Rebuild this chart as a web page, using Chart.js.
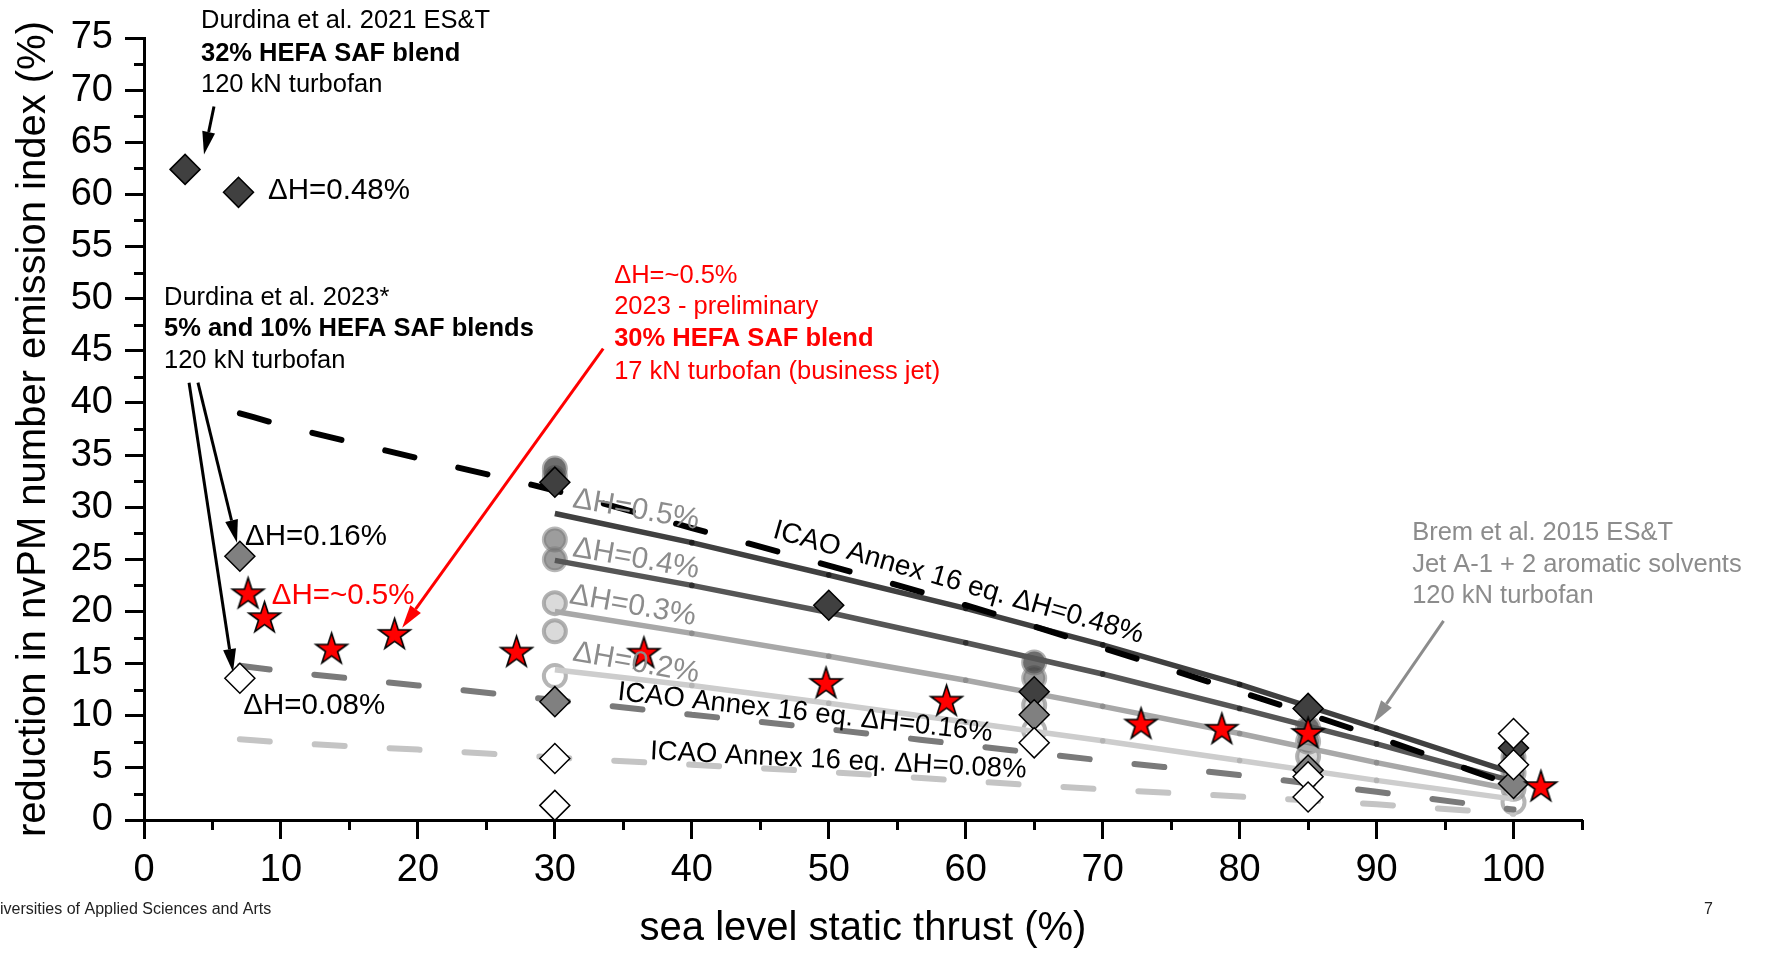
<!DOCTYPE html>
<html>
<head>
<meta charset="utf-8">
<script src="https://cdn.jsdelivr.net/npm/chart.js@4.4.0/dist/chart.umd.min.js"></script>
<style>
  html, body { margin: 0; padding: 0; background: #fff; }
  #wrap { width: 1766px; height: 953px; }
</style>
</head>
<body>
<div id="wrap"><canvas id="nvpmChart" width="1766" height="953"></canvas></div>
<script>
// fitted reductions (%) vs. sea level static thrust (%), one curve per fuel hydrogen change
const thrustSteps = [30, 40, 50, 60, 70, 80, 90, 100];
const fitDH05 = [29.4, 26.6, 23.5, 20.3, 16.8, 13.0, 8.8, 4.5];
const fitDH04 = [24.9, 22.5, 19.9, 17.0, 14.0, 10.7, 7.3, 3.7];
const fitDH03 = [20.0, 17.9, 15.7, 13.4, 10.9, 8.3, 5.5, 2.9];
const fitDH02 = [14.4, 12.9, 11.2, 9.4, 7.6, 5.7, 3.8, 2.0];

// ICAO Annex 16 equation curves
const icaoThrust = [7, 10, 20, 30, 40, 50, 60, 70, 80, 90, 100];
const icaoDH048 = [39.0, 37.9, 34.7, 31.6, 28.0, 24.4, 20.6, 16.5, 12.3, 7.95, 3.3];
const icaoDH016 = [14.8, 14.3, 12.9, 11.5, 10.1, 8.7, 7.2, 5.7, 4.3, 2.7, 1.0];
const icaoDH008 = [7.75, 7.45, 6.75, 6.0, 5.3, 4.6, 3.75, 2.95, 2.25, 1.5, 0.6];

// Durdina et al. 2021 (32% HEFA)
const d2021Thrust = [3.0, 6.9, 30, 50, 65, 85, 100];
const d2021Red = [62.4, 60.2, 32.4, 20.6, 12.3, 10.7, 6.9];
// Durdina et al. 2023, dH = 0.16% and 0.08%
const d2023Thrust016 = [7.0, 30, 65, 85, 100];
const d2023Red016 = [25.3, 11.35, 10.1, 4.8, 3.5];
const d2023Thrust008 = [7.0, 30, 30, 65, 85, 85, 100, 100];
const d2023Red008 = [13.6, 5.9, 1.4, 7.4, 4.15, 2.2, 8.3, 5.3];

// 17 kN business jet, 30% HEFA (preliminary)
const bizJetThrust = [7.6, 8.8, 13.7, 18.3, 27.2, 36.5, 49.8, 58.6, 72.8, 78.7, 85.0, 102.0];
const bizJetRed = [21.8, 19.5, 16.5, 17.9, 16.2, 16.1, 13.2, 11.5, 9.3, 8.8, 8.4, 3.3];

// Brem et al. 2015 (Jet A-1 + aromatic solvents)
const bremThrust05 = [30, 30, 65, 85, 100];
const bremRed05 = [33.7, 33.0, 15.1, 8.8, 6.0];
const bremThrust04 = [30, 30, 65, 85, 100];
const bremRed04 = [26.9, 25.0, 13.6, 7.5, 4.5];
const bremThrust03 = [30, 30, 65, 85, 100];
const bremRed03 = [20.8, 18.1, 11.0, 6.1, 3.0];
const bremThrust02 = [30, 65, 85, 100];
const bremRed02 = [13.8, 8.6, 4.8, 1.7];

const xTicksMax = 105;
const yTicksMax = 75;

const FONT = "'Liberation Sans', Arial, sans-serif";
const pts = (xs, ys) => xs.map((x, i) => ({ x: x, y: ys[i] }));

// red five-point star used as a point style
function makeStar(R) {
  const s = Math.ceil(R * 2 + 6);
  const c = document.createElement('canvas');
  c.width = s; c.height = s;
  const g = c.getContext('2d');
  g.translate(s / 2, s / 2 + R * 0.095);
  g.beginPath();
  for (let i = 0; i < 10; i++) {
    const a = -Math.PI / 2 + i * Math.PI / 5;
    const r = i % 2 === 0 ? R : R * 0.382;
    const px = Math.cos(a) * r, py = Math.sin(a) * r;
    if (i === 0) g.moveTo(px, py); else g.lineTo(px, py);
  }
  g.closePath();
  g.fillStyle = '#ff0000';
  g.fill();
  g.lineWidth = 1.6;
  g.lineJoin = 'miter';
  g.strokeStyle = '#000';
  g.stroke();
  return c;
}
const starImg = makeStar(16.5);

// text labels, anchored in data coordinates
const notes = [
  { text: 'Durdina et al. 2021 ES&T', x: 4.16, y: 76.6, size: 25.5 },
  { text: '32% HEFA SAF blend', x: 4.16, y: 73.5, size: 25.5, bold: true },
  { text: '120 kN turbofan', x: 4.16, y: 70.5, size: 25.5 },
  { text: 'ΔH=0.48%', x: 9.06, y: 60.3, size: 29.5 },
  { text: 'Durdina et al. 2023*', x: 1.46, y: 50.1, size: 25.5 },
  { text: '5% and 10% HEFA SAF blends', x: 1.46, y: 47.05, size: 25.5, bold: true },
  { text: '120 kN turbofan', x: 1.46, y: 44.0, size: 25.5 },
  { text: 'ΔH=~0.5%', x: 34.33, y: 52.2, size: 25.5, color: '#ff0000' },
  { text: '2023 - preliminary', x: 34.33, y: 49.2, size: 25.5, color: '#ff0000' },
  { text: '30% HEFA SAF blend', x: 34.33, y: 46.15, size: 25.5, color: '#ff0000', bold: true },
  { text: '17 kN turbofan (business jet)', x: 34.33, y: 43.0, size: 25.5, color: '#ff0000' },
  { text: 'Brem et al. 2015 ES&T', x: 92.6, y: 27.5, size: 25.5, color: '#8c8c8c' },
  { text: 'Jet A-1 + 2 aromatic solvents', x: 92.6, y: 24.5, size: 25.5, color: '#8c8c8c' },
  { text: '120 kN turbofan', x: 92.6, y: 21.5, size: 25.5, color: '#8c8c8c' },
  { text: 'ΔH=0.16%', x: 7.38, y: 27.13, size: 29.5 },
  { text: 'ΔH=~0.5%', x: 9.33, y: 21.5, size: 29.5, color: '#ff0000' },
  { text: 'ΔH=0.08%', x: 7.25, y: 10.94, size: 29.5 },
  { text: 'ΔH=0.5%', x: 31.34, y: 30.8, size: 30, color: '#8c8c8c', angle: 10 },
  { text: 'ΔH=0.4%', x: 31.34, y: 26.1, size: 30, color: '#8c8c8c', angle: 10 },
  { text: 'ΔH=0.3%', x: 31.1, y: 21.6, size: 30, color: '#8c8c8c', angle: 10 },
  { text: 'ΔH=0.2%', x: 31.34, y: 16.1, size: 30, color: '#8c8c8c', angle: 10 },
  { text: 'ICAO Annex 16 eq. ΔH=0.48%', x: 46.0, y: 27.83, size: 28, angle: 16 },
  { text: 'ICAO Annex 16 eq. ΔH=0.16%', x: 34.6, y: 12.25, size: 27.5, angle: 6.3 },
  { text: 'ICAO Annex 16 eq. ΔH=0.08%', x: 36.95, y: 6.55, size: 27.5, angle: 2.8 }
];

// arrows from the text blocks to the data they describe
const arrows = [
  { from: [5.11, 68.43], to: [4.38, 63.82], color: '#000' },
  { from: [3.94, 41.94], to: [6.79, 26.58], color: '#000' },
  { from: [3.29, 41.94], to: [6.50, 14.20], color: '#000' },
  { from: [33.53, 45.2], to: [18.85, 18.43], color: '#ff0000' },
  { from: [94.89, 19.1], to: [89.77, 9.31], color: '#8c8c8c' }
];

function drawArrow(ctx, x1, y1, x2, y2, color) {
  const ang = Math.atan2(y2 - y1, x2 - x1);
  const head = 23, half = 6.5;
  const bx = x2 - Math.cos(ang) * head, by = y2 - Math.sin(ang) * head;
  ctx.save();
  ctx.strokeStyle = color;
  ctx.fillStyle = color;
  ctx.lineWidth = 3;
  ctx.beginPath();
  ctx.moveTo(x1, y1);
  ctx.lineTo(bx, by);
  ctx.stroke();
  ctx.beginPath();
  ctx.moveTo(x2, y2);
  ctx.lineTo(bx + Math.sin(ang) * half, by - Math.cos(ang) * half);
  ctx.lineTo(bx - Math.sin(ang) * half, by + Math.cos(ang) * half);
  ctx.closePath();
  ctx.fill();
  ctx.restore();
}

const overlay = {
  id: 'overlay',
  afterDraw(chart) {
    const ctx = chart.ctx;
    const xs = chart.scales.x, ys = chart.scales.y;
    const area = chart.chartArea;

    // minor tick marks
    ctx.save();
    ctx.strokeStyle = '#000';
    ctx.lineWidth = 3;
    ctx.beginPath();
    for (let v = 5; v < xTicksMax + 0.1; v += 10) {
      const px = Math.round(xs.getPixelForValue(v)) + 0.5;
      ctx.moveTo(px, area.bottom);
      ctx.lineTo(px, area.bottom + 10);
    }
    for (let v = 2.5; v < yTicksMax; v += 5) {
      const py = Math.round(ys.getPixelForValue(v)) + 0.5;
      ctx.moveTo(area.left, py);
      ctx.lineTo(area.left - 10, py);
    }
    ctx.stroke();
    ctx.restore();

    arrows.forEach(a => drawArrow(ctx,
      xs.getPixelForValue(a.from[0]), ys.getPixelForValue(a.from[1]),
      xs.getPixelForValue(a.to[0]), ys.getPixelForValue(a.to[1]), a.color));

    notes.forEach(n => {
      ctx.save();
      ctx.translate(xs.getPixelForValue(n.x), ys.getPixelForValue(n.y));
      if (n.angle) ctx.rotate(n.angle * Math.PI / 180);
      ctx.font = (n.bold ? 'bold ' : '') + n.size + 'px ' + FONT;
      ctx.fillStyle = n.color || '#000';
      ctx.textAlign = 'left';
      ctx.textBaseline = 'middle';
      ctx.fillText(n.text, 0, 0);
      ctx.restore();
    });

    // slide footer
    ctx.save();
    ctx.font = '16px ' + FONT;
    ctx.fillStyle = '#222';
    ctx.textBaseline = 'middle';
    ctx.textAlign = 'left';
    ctx.fillText('iversities of Applied Sciences and Arts', 0, 910);
    ctx.fillText('7', 1704, 910);
    ctx.restore();
  }
};

const common = { clip: false };

const diamond = (label, data, fill, order) => Object.assign({
  label: label, data: data, order: order,
  pointStyle: 'rectRot', pointRadius: 15,
  pointBackgroundColor: fill, pointBorderColor: '#000', pointBorderWidth: 1.5,
  showLine: false
}, common);

const fitLine = (label, ys, color, dot, order) => Object.assign({
  label: label, data: pts(thrustSteps, ys), order: order,
  showLine: true, borderColor: color, borderWidth: 5.5, tension: 0,
  pointRadius: c => (c.dataIndex === 0 || c.dataIndex === thrustSteps.length - 1) ? 0 : 2.8,
  pointBackgroundColor: dot, pointBorderWidth: 0
}, common);

const icaoLine = (label, ys, color, order) => Object.assign({
  label: label, data: pts(icaoThrust, ys), order: order,
  showLine: true, borderColor: color, borderWidth: 6,
  borderDash: [30, 45], borderCapStyle: 'round',
  cubicInterpolationMode: 'monotone', pointRadius: 0
}, common);

const bremSet = (label, xs, ys, fill, edge) => Object.assign({
  label: label, data: pts(xs, ys), order: 9,
  pointStyle: 'circle', pointRadius: 11,
  pointBackgroundColor: fill, pointBorderColor: edge, pointBorderWidth: 4,
  showLine: false
}, common);

new Chart(document.getElementById('nvpmChart').getContext('2d'), {
  type: 'scatter',
  data: {
    datasets: [
      Object.assign({
        label: '17 kN business jet', data: pts(bizJetThrust, bizJetRed), order: 0,
        pointStyle: starImg, pointRadius: 16, showLine: false
      }, common),
      diamond('Durdina 2023 ΔH=0.08%', pts(d2023Thrust008, d2023Red008), '#ffffff', 1),
      diamond('Durdina 2023 ΔH=0.16%', pts(d2023Thrust016, d2023Red016), '#808080', 2),
      diamond('Durdina 2021', pts(d2021Thrust, d2021Red), '#404040', 3),
      icaoLine('ICAO ΔH=0.48%', icaoDH048, '#000000', 4),
      fitLine('ΔH=0.5%', fitDH05, '#404040', '#1e1e1e', 5),
      fitLine('ΔH=0.4%', fitDH04, '#565656', '#2e2e2e', 5),
      fitLine('ΔH=0.3%', fitDH03, '#a8a8a8', '#8e8e8e', 6),
      fitLine('ΔH=0.2%', fitDH02, '#cdcdcd', '#b4b4b4', 6),
      icaoLine('ICAO ΔH=0.16%', icaoDH016, '#7a7a7a', 7),
      icaoLine('ICAO ΔH=0.08%', icaoDH008, '#c4c4c4', 7),
      bremSet('Brem ΔH=0.5%', bremThrust05, bremRed05, 'rgba(60,60,60,0.75)', 'rgba(110,110,110,0.55)'),
      bremSet('Brem ΔH=0.4%', bremThrust04, bremRed04, 'rgba(105,105,105,0.65)', 'rgba(125,125,125,0.55)'),
      bremSet('Brem ΔH=0.3%', bremThrust03, bremRed03, 'rgba(205,205,205,0.75)', 'rgba(145,145,145,0.7)'),
      bremSet('Brem ΔH=0.2%', bremThrust02, bremRed02, 'rgba(255,255,255,0.85)', 'rgba(150,150,150,0.7)')
    ]
  },
  options: {
    responsive: false,
    animation: false,
    events: [],
    layout: { padding: { left: 0, right: 184, top: 38, bottom: 0 } },
    plugins: { legend: { display: false }, tooltip: { enabled: false } },
    scales: {
      x: {
        type: 'linear', min: 0, max: xTicksMax,
        afterFit: s => { s.height = 133; },
        border: { display: true, color: '#000', width: 3 },
        grid: {
          drawOnChartArea: false, drawTicks: true, tickLength: 19, tickWidth: 3,
          tickColor: c => (c.tick && c.tick.value % 10 === 0) ? '#000' : 'rgba(0,0,0,0)'
        },
        ticks: {
          stepSize: 5, autoSkip: false, maxRotation: 0, maxTicksLimit: 100,
          padding: 9, color: '#000', font: { family: FONT, size: 38 },
          callback: v => v % 10 === 0 ? v : ''
        },
        title: {
          display: true, text: 'sea level static thrust (%)', color: '#000',
          font: { family: FONT, size: 40 }, padding: { top: 0, bottom: 0 }
        }
      },
      y: {
        type: 'linear', min: 0, max: yTicksMax,
        afterFit: s => { s.width = 144; },
        border: { display: true, color: '#000', width: 3 },
        grid: {
          drawOnChartArea: false, drawTicks: true, tickLength: 19, tickWidth: 3,
          tickColor: c => (c.tick && c.tick.value % 5 === 0) ? '#000' : 'rgba(0,0,0,0)'
        },
        ticks: {
          stepSize: 2.5, autoSkip: false, maxTicksLimit: 100,
          padding: 12, color: '#000', font: { family: FONT, size: 38 },
          callback: v => v % 5 === 0 ? v : ''
        },
        title: {
          display: true, text: 'reduction in nvPM number emission index (%)', color: '#000',
          font: { family: FONT, size: 40 }, padding: { top: 10, bottom: 0 }
        }
      }
    }
  },
  plugins: [overlay]
});
</script>
</body>
</html>
